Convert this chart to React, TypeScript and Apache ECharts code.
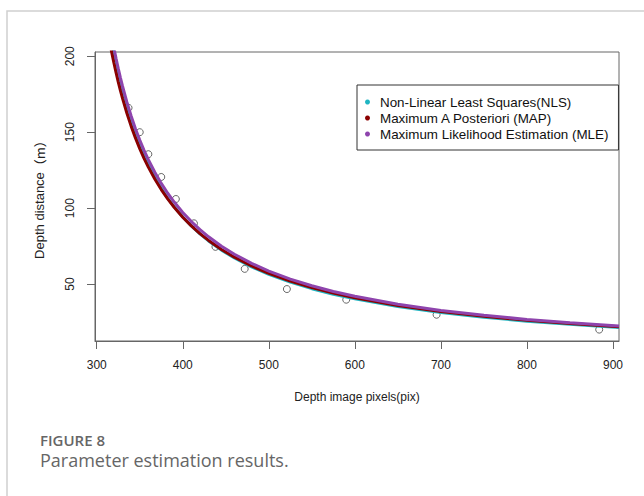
import React, { useEffect, useRef } from "react";
import * as echarts from "echarts";

// Observed data points (pixels, metres)
const obsX = [337, 350, 360, 375, 392, 413, 438, 472, 521, 590, 695, 884];
const obsY = [166, 150, 135.5, 120.5, 106, 90, 74.5, 60, 46.7, 39.7, 29.8, 20];

// Fitted curves
const fitX = [315, 317.5, 320, 322.5, 325, 327.5, 330, 335, 340, 345, 350, 355, 360, 367.5, 375, 382.5, 390, 400, 410, 420, 430, 445, 460, 480, 500, 525, 550, 575, 600, 650, 700, 750, 800, 850, 907];
const nlsY = [218.55, 210.37, 202.79, 195.72, 189.14, 182.98, 177.21, 166.7, 157.37, 149.02, 141.52, 134.74, 128.57, 120.32, 113.06, 106.62, 100.88, 94.13, 88.22, 83.01, 78.38, 72.33, 67.14, 61.29, 56.37, 51.23, 46.95, 43.33, 40.23, 35.19, 31.28, 28.15, 25.58, 23.45, 21.41];
const mapY = [209.7, 202.37, 195.55, 189.16, 183.19, 177.57, 172.29, 162.63, 153.99, 146.22, 139.19, 132.81, 126.99, 119.16, 112.24, 106.08, 100.55, 94.03, 88.3, 83.23, 78.71, 72.78, 67.68, 61.9, 57.02, 51.92, 47.65, 44.03, 40.92, 35.86, 31.91, 28.74, 26.15, 23.99, 21.92];
const mleY = [220.73, 212.77, 205.36, 198.45, 191.99, 185.94, 180.26, 169.87, 160.62, 152.32, 144.84, 138.06, 131.89, 123.6, 116.28, 109.79, 103.98, 97.13, 91.13, 85.83, 81.11, 74.92, 69.62, 63.61, 58.56, 53.27, 48.86, 45.12, 41.91, 36.7, 32.64, 29.38, 26.72, 24.5, 22.38];

const xTicks = [300, 400, 500, 600, 700, 800, 900];
const yTicks = [50, 100, 150, 200];

const seriesNames = [
  "Non-Linear Least Squares(NLS)",
  "Maximum A Posteriori (MAP)",
  "Maximum Likelihood Estimation (MLE)",
];
const seriesColors = ["#1fb5c2", "#8b0000", "#8e44ad"];

export default function App() {
  const ref = useRef<HTMLDivElement>(null);
  useEffect(() => {
    if (!ref.current) return;
    const chart = echarts.init(ref.current, null, { renderer: "svg" });
    const zip = (xs: number[], ys: number[]) => xs.map((x, i) => [x, ys[i]]);
    const curves = [nlsY, mapY, mleY];
    const axisColor = "#666";
    const textColor = "#222";
    const font = "Liberation Sans, Arial, sans-serif";
    chart.setOption({
      animation: false,
      backgroundColor: "#fff",
      grid: {
        left: 95,
        top: 52,
        right: 25,
        bottom: 155,
        show: true,
        borderColor: axisColor,
        borderWidth: 1,
        backgroundColor: "transparent",
      },
      legend: {
        left: 357,
        top: 85,
        orient: "vertical",
        icon: "circle",
        itemWidth: 5,
        itemHeight: 5,
        itemGap: 0,
        padding: [9, 10, 8, 8],
        borderColor: "#333",
        borderWidth: 1,
        backgroundColor: "#fff",
        data: seriesNames.map((n, i) => ({ name: n, itemStyle: { color: seriesColors[i] } })),
        textStyle: {
          fontSize: 13.4,
          lineHeight: 16,
          color: "#111",
          fontFamily: font,
          padding: [0, 0, 0, 5],
        },
        selectedMode: false,
      },
      xAxis: {
        type: "value",
        min: 298,
        max: 907,
        name: "Depth image pixels(pix)",
        nameLocation: "middle",
        nameGap: 50,
        nameTextStyle: { fontSize: 12, color: textColor, fontFamily: font },
        axisLine: { show: true, onZero: false, lineStyle: { color: axisColor } },
        axisTick: {
          show: true,
          length: 8,
          customValues: xTicks,
          lineStyle: { color: axisColor },
        },
        axisLabel: {
          customValues: xTicks,
          fontSize: 12,
          color: textColor,
          margin: 18,
          fontFamily: font,
        },
        splitLine: { show: false },
      },
      yAxis: {
        type: "value",
        min: 12.5,
        max: 202.8,
        name: "{a|Depth distance}{b|（m）}",
        nameLocation: "middle",
        nameRotate: 90,
        nameGap: 49,
        nameTextStyle: {
          fontSize: 13,
          color: textColor,
          fontFamily: font,
          rich: {
            a: { fontSize: 13, color: textColor, fontFamily: font },
            b: { fontSize: 13, color: textColor, fontFamily: "Noto Sans CJK SC, sans-serif" },
          },
        },
        axisLine: { show: true, onZero: false, lineStyle: { color: axisColor } },
        axisTick: {
          show: true,
          length: 8,
          customValues: yTicks,
          lineStyle: { color: axisColor },
        },
        axisLabel: {
          customValues: yTicks,
          rotate: 90,
          fontSize: 12,
          color: textColor,
          margin: 19,
          fontFamily: font,
        },
        splitLine: { show: false },
      },
      series: [
        {
          type: "scatter",
          name: "Observed",
          data: zip(obsX, obsY),
          symbol: "circle",
          symbolSize: 7,
          itemStyle: { color: "#fff", borderColor: "#444", borderWidth: 1 },
          z: 1,
        },
        ...seriesNames.map((n, i) => ({
          type: "line",
          name: n,
          data: zip(fitX, curves[i]),
          showSymbol: false,
          smooth: false,
          clip: true,
          lineStyle: { color: seriesColors[i], width: 3 },
          itemStyle: { color: seriesColors[i] },
          z: 2 + i,
        })),
      ],
      graphic: [
        {
          type: "polyline",
          shape: { points: [[644, 11], [7, 11], [7, 496]] },
          style: { stroke: "#d0d0d0", lineWidth: 1.5, fill: null },
          silent: true,
        },
        {
          type: "text",
          left: 40,
          top: 432,
          style: {
            text: "FIGURE 8",
            fontSize: 15,
            fontWeight: 600,
            fill: "#666",
            fontFamily: "Open Sans, sans-serif",
          },
        },
        {
          type: "text",
          left: 40,
          top: 451,
          style: {
            text: "Parameter estimation results.",
            fontSize: 18,
            fill: "#666",
            fontFamily: "Open Sans, sans-serif",
          },
        },
      ],
    });
    return () => chart.dispose();
  }, []);
  return (
    <div
      ref={ref}
      style={{ position: "fixed", left: 0, top: 0, width: 644, height: 496 }}
    />
  );
}
